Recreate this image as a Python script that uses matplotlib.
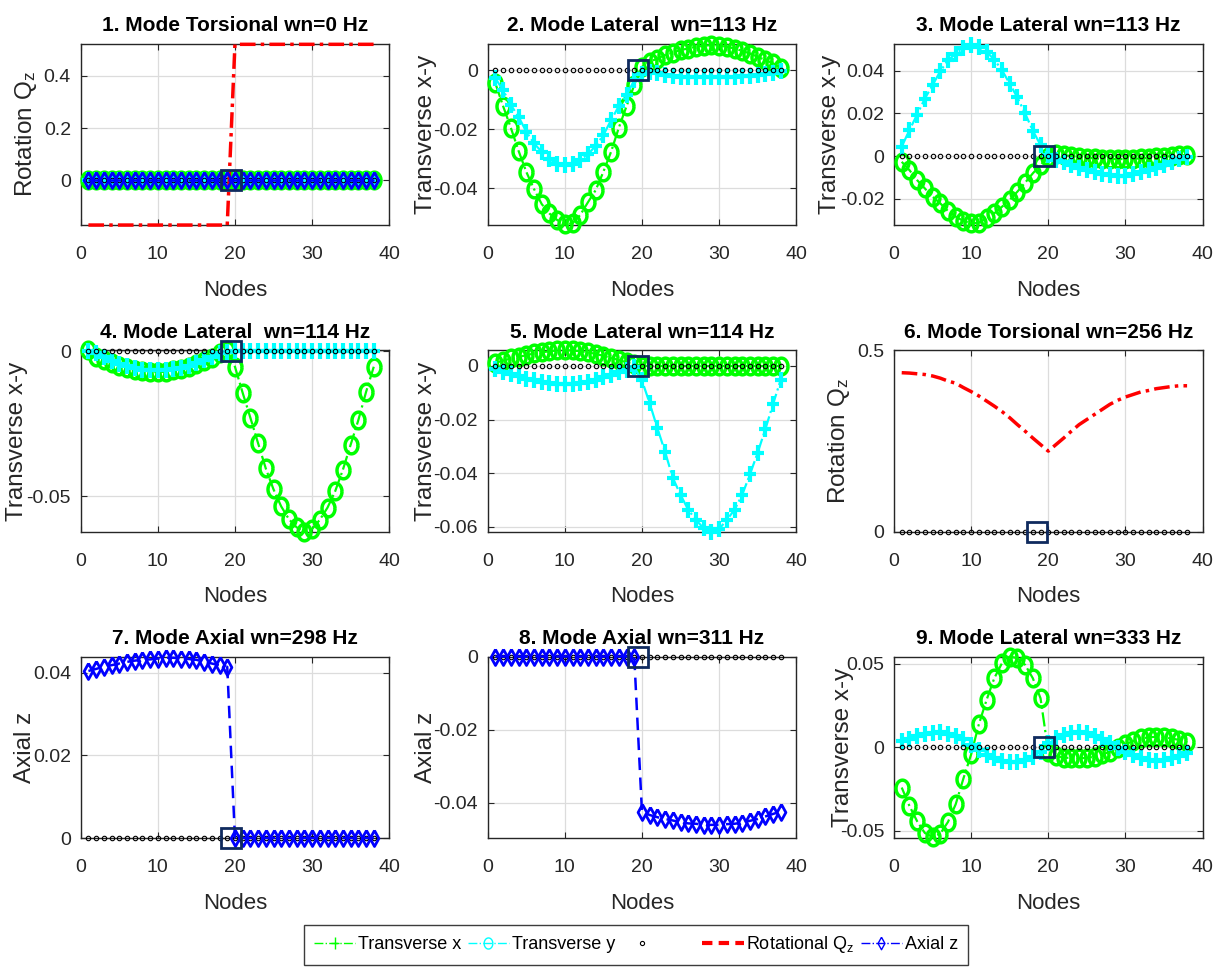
import matplotlib
matplotlib.use("Agg")
import matplotlib.pyplot as plt
from matplotlib.lines import Line2D
from matplotlib.path import Path
from matplotlib.ticker import MultipleLocator, FuncFormatter
import numpy as np

plt.rcParams["font.family"] = ["Liberation Sans", "DejaVu Sans"]
plt.rcParams["axes.unicode_minus"] = False
plt.rcParams["mathtext.fontset"] = "custom"
plt.rcParams["mathtext.rm"] = "Liberation Sans"
plt.rcParams["mathtext.it"] = "Liberation Sans:italic"

nodes = np.arange(1, 39)
zeros = [0.0] * 38

titles = [
    "1. Mode Torsional wn=0 Hz",
    "2. Mode Lateral  wn=113 Hz",
    "3. Mode Lateral wn=113 Hz",
    "4. Mode Lateral  wn=114 Hz",
    "5. Mode Lateral wn=114 Hz",
    "6. Mode Torsional wn=256 Hz",
    "7. Mode Axial wn=298 Hz",
    "8. Mode Axial wn=311 Hz",
    "9. Mode Lateral wn=333 Hz",
]
ylabels = [
    r"Rotation Q$_{\rm z}$", "Transverse x-y", "Transverse x-y",
    "Transverse x-y", "Transverse x-y", r"Rotation Q$_{\rm z}$",
    "Axial z", "Axial z", "Transverse x-y",
]

# transverse component drawn with cyan '+'
trans_x = [
    zeros,
    [-0.0028, -0.0068, -0.0118, -0.0158, -0.0208, -0.0248, -0.0276, -0.0302, -0.0316, -0.0321,
     -0.0318, -0.0304, -0.0285, -0.0256, -0.0220, -0.0169, -0.0122, -0.0085, -0.0034, -0.0013,
     -0.0006, -0.0011, -0.0017, -0.0020, -0.0022, -0.0023, -0.0023, -0.0023, -0.0023, -0.0023,
     -0.0023, -0.0022, -0.0021, -0.0020, -0.0017, -0.0013, -0.0009, -0.0002],
    [0.0044, 0.0122, 0.0195, 0.0270, 0.0333, 0.0398, 0.0450, 0.0480, 0.0506, 0.0522,
     0.0511, 0.0489, 0.0453, 0.0403, 0.0340, 0.0275, 0.0200, 0.0119, 0.0052, 0.0005,
     -0.0019, -0.0030, -0.0042, -0.0055, -0.0066, -0.0077, -0.0084, -0.0089, -0.0092, -0.0092,
     -0.0084, -0.0077, -0.0066, -0.0055, -0.0042, -0.0030, -0.0016, -0.0003],
    [0.0000, -0.0008, -0.0022, -0.0033, -0.0044, -0.0052, -0.0059, -0.0065, -0.0067, -0.0067,
     -0.0067, -0.0063, -0.0058, -0.0050, -0.0041, -0.0031, -0.0019, -0.0008, -0.0002, 0.0000]
    + [0.0] * 18,
    [-0.0010, -0.0023, -0.0029, -0.0039, -0.0048, -0.0051, -0.0058, -0.0063, -0.0067, -0.0067,
     -0.0067, -0.0063, -0.0058, -0.0051, -0.0041, -0.0033, -0.0023, -0.0016, -0.0004, -0.0054,
     -0.0139, -0.0232, -0.0321, -0.0418, -0.0481, -0.0537, -0.0575, -0.0606, -0.0619, -0.0609,
     -0.0575, -0.0537, -0.0481, -0.0405, -0.0324, -0.0236, -0.0142, -0.0051],
    None,
    None,
    None,
    [0.0038, 0.0048, 0.0066, 0.0078, 0.0086, 0.0088, 0.0078, 0.0068, 0.0048, 0.0012,
     -0.0018, -0.0048, -0.0068, -0.0082, -0.0088, -0.0088, -0.0078, -0.0058, -0.0028, 0.0022,
     0.0052, 0.0072, 0.0086, 0.0088, 0.0082, 0.0068, 0.0048, 0.0022, -0.0004, -0.0028,
     -0.0048, -0.0064, -0.0078, -0.0084, -0.0080, -0.0068, -0.0052, -0.0038],
]

# transverse component drawn with green 'o'
trans_y = [
    zeros,
    [-0.0045, -0.0122, -0.0195, -0.0273, -0.0344, -0.0402, -0.0453, -0.0485, -0.0507, -0.0522,
     -0.0518, -0.0490, -0.0447, -0.0406, -0.0344, -0.0276, -0.0195, -0.0122, -0.0051, 0.0011,
     0.0028, 0.0039, 0.0051, 0.0059, 0.0068, 0.0073, 0.0079, 0.0082, 0.0085, 0.0083,
     0.0079, 0.0073, 0.0065, 0.0056, 0.0045, 0.0034, 0.0023, 0.0008],
    [-0.0027, -0.0066, -0.0113, -0.0152, -0.0191, -0.0222, -0.0258, -0.0284, -0.0305, -0.0316,
     -0.0313, -0.0292, -0.0269, -0.0238, -0.0206, -0.0167, -0.0125, -0.0081, -0.0042, -0.0003,
     0.0009, 0.0005, 0.0000, -0.0004, -0.0008, -0.0011, -0.0013, -0.0014, -0.0014, -0.0014,
     -0.0013, -0.0011, -0.0009, -0.0006, -0.0003, 0.0000, 0.0003, 0.0005],
    [0.0003, -0.0019, -0.0031, -0.0042, -0.0050, -0.0058, -0.0065, -0.0069, -0.0072, -0.0073,
     -0.0071, -0.0067, -0.0062, -0.0054, -0.0044, -0.0035, -0.0024, -0.0008, 0.0003, -0.0054,
     -0.0144, -0.0230, -0.0318, -0.0405, -0.0477, -0.0536, -0.0580, -0.0608, -0.0623, -0.0614,
     -0.0582, -0.0540, -0.0483, -0.0409, -0.0323, -0.0238, -0.0141, -0.0054],
    [0.0012, 0.0020, 0.0028, 0.0034, 0.0040, 0.0047, 0.0051, 0.0055, 0.0058, 0.0059,
     0.0058, 0.0055, 0.0051, 0.0045, 0.0038, 0.0030, 0.0022, 0.0014, 0.0007, 0.0000]
    + [0.0] * 18,
    None,
    None,
    None,
    [-0.0242, -0.0352, -0.0444, -0.0514, -0.0538, -0.0518, -0.0448, -0.0342, -0.0188, -0.0044,
     0.0136, 0.0282, 0.0412, 0.0502, 0.0542, 0.0532, 0.0492, 0.0412, 0.0292, -0.0028,
     -0.0054, -0.0064, -0.0064, -0.0068, -0.0064, -0.0058, -0.0044, -0.0028, -0.0004, 0.0016,
     0.0036, 0.0052, 0.0058, 0.0062, 0.0058, 0.0052, 0.0042, 0.0028],
]

rot_z = [
    [-0.171] * 19 + [0.520] * 19,
    None, None, None, None,
    [0.438, 0.437, 0.435, 0.433, 0.429, 0.423, 0.415, 0.409, 0.397, 0.386,
     0.374, 0.360, 0.346, 0.331, 0.314, 0.295, 0.277, 0.258, 0.240, 0.222,
     0.240, 0.258, 0.277, 0.295, 0.309, 0.323, 0.337, 0.351, 0.362, 0.371,
     0.378, 0.385, 0.389, 0.394, 0.397, 0.400, 0.402, 0.402],
    None, None, None,
]

axial_z = [
    zeros,
    None, None, None, None, None,
    [0.0404, 0.0409, 0.0414, 0.0418, 0.0422, 0.0426, 0.0429, 0.0431, 0.0432, 0.0434,
     0.0436, 0.0436, 0.0434, 0.0433, 0.0431, 0.0426, 0.0422, 0.0418, 0.0414, 0.0000]
    + [0.0] * 18,
    [0.0] * 19
    + [-0.0425, -0.0434, -0.0440, -0.0445, -0.0449, -0.0454, -0.0457, -0.0458, -0.0461, -0.0461,
       -0.0461, -0.0459, -0.0458, -0.0455, -0.0450, -0.0445, -0.0438, -0.0431, -0.0425],
    None,
]

bearing_node = [19.5, 19.5, 19.5, 19.5, 19.5, 18.5, 19.5, 19.5, 19.5]

ylims = [(-0.172, 0.522), (-0.0525, 0.0089), (-0.0325, 0.0527),
         (-0.0623, 0.0003), (-0.0619, 0.0059), (0.0, 0.5),
         (0.0, 0.0439), (-0.0497, 0.0), (-0.0544, 0.0542)]
ystep = [0.2, 0.02, 0.02, 0.05, 0.02, 0.5, 0.02, 0.02, 0.05]
ylabel_x = [-0.176, -0.200, -0.206, -0.206, -0.200, -0.178, -0.182, -0.200, -0.166]

# squeezed marker shapes
t = np.linspace(0, 2 * np.pi, 41)
ellipse = list(zip(0.78 * np.cos(t), np.sin(t)))
diamond = [(0, 1), (0.55, 0), (0, -1), (-0.55, 0), (0, 1)]
plus = Path([(-0.8, 0), (0.8, 0), (0, -1), (0, 1)],
            [Path.MOVETO, Path.LINETO, Path.MOVETO, Path.LINETO])

GREEN = "#00ff00"
CYAN = "#00ffff"
RED = "#ff0000"
BLUE = "#0000ff"
NAVY = "#0f2a5e"
INK = "#262626"

fmt = FuncFormatter(lambda v, _: f"{v:g}" if abs(v) > 1e-12 else "0")

fig = plt.figure(figsize=(12.2, 9.71), dpi=100)
W, H = 1220.0, 971.0
col_left = [80.7, 487.7, 894.0]
row_bottom = [225.3, 531.7, 838.0]
aw, ah = 308.5, 181.5

for k in range(9):
    r, c = divmod(k, 3)
    ax = fig.add_axes([col_left[c] / W, 1 - row_bottom[r] / H, aw / W, ah / H])

    if trans_y[k] is not None:
        ax.plot(nodes, trans_y[k], linestyle="-.", color=GREEN, linewidth=1.6,
                marker=ellipse, markersize=12, markerfacecolor="none",
                markeredgecolor=GREEN, markeredgewidth=2.5, clip_on=False, zorder=3)
    if trans_x[k] is not None:
        ax.plot(nodes, trans_x[k], linestyle="-.", color=CYAN, linewidth=1.6,
                marker=plus, markersize=11, markerfacecolor="none",
                markeredgecolor=CYAN, markeredgewidth=3.0, clip_on=False, zorder=3)
    ax.plot(nodes, zeros, linestyle="none", marker="o", markersize=3.2,
            markerfacecolor="none", markeredgecolor="black", markeredgewidth=0.8,
            clip_on=False, zorder=4)
    if rot_z[k] is not None:
        ax.plot(nodes, rot_z[k], linestyle=(0, (4.5, 1.5, 1, 1.5)), color=RED,
                linewidth=2.5, clip_on=False, zorder=4)
    if axial_z[k] is not None:
        ax.plot(nodes, axial_z[k], linestyle=(0, (5, 3)), color=BLUE, linewidth=1.8,
                marker=diamond, markersize=11.5, markerfacecolor="none",
                markeredgecolor=BLUE, markeredgewidth=2.0, clip_on=False, zorder=5)
    ax.plot([bearing_node[k]], [0], linestyle="none", marker="s", markersize=14,
            markerfacecolor="none", markeredgecolor=NAVY, markeredgewidth=2,
            clip_on=False, zorder=6)

    ax.set_xlim(0, 40)
    ax.set_ylim(*ylims[k])
    ax.xaxis.set_major_locator(MultipleLocator(10))
    ax.yaxis.set_major_locator(MultipleLocator(ystep[k]))
    ax.yaxis.set_major_formatter(fmt)
    ax.grid(True, color="#dcdcdc", linewidth=0.9)
    ax.set_axisbelow(True)
    ax.tick_params(direction="in", top=True, right=True, length=4,
                   labelsize=14, colors=INK)
    ax.tick_params(axis="x", pad=15)
    ax.tick_params(axis="y", pad=7)
    for s in ax.spines.values():
        s.set_color(INK)
        s.set_linewidth(1.0)

    ax.set_title(titles[k], fontsize=15, fontweight="bold", pad=9)
    ax.set_xlabel("Nodes", fontsize=16, labelpad=12, color=INK)
    ax.set_ylabel(ylabels[k], fontsize=17.5, color=INK, va="center")
    ax.yaxis.set_label_coords(ylabel_x[k], 0.5)

handles = [
    Line2D([], [], linestyle="-.", color=GREEN, linewidth=1, marker=plus,
           markersize=8, markeredgecolor=GREEN, markeredgewidth=1),
    Line2D([], [], linestyle="-.", color=CYAN, linewidth=1, marker=ellipse,
           markersize=8, markerfacecolor="none", markeredgecolor=CYAN, markeredgewidth=1),
    Line2D([], [], linestyle="none", marker="o", markersize=3,
           markerfacecolor="none", markeredgecolor="black", markeredgewidth=0.8),
    Line2D([], [], linestyle=(0, (2.5, 1.5)), color=RED, linewidth=3),
    Line2D([], [], linestyle="-.", color=BLUE, linewidth=1, marker=diamond,
           markersize=9, markerfacecolor="none", markeredgecolor=BLUE, markeredgewidth=1),
]
labels = ["Transverse x", "Transverse y", "      ", r"Rotational Q$_{\rm z}$", "Axial z"]
leg = fig.legend(handles, labels, loc="center", bbox_to_anchor=(0.5213, 0.0268),
                 ncol=5, fontsize=13, frameon=True, fancybox=False, framealpha=1,
                 edgecolor="#3c3c3c", handlelength=2.3, handletextpad=0.15,
                 columnspacing=0.35, borderpad=0.55)
leg.get_frame().set_linewidth(1.0)

fig.savefig("out.png", dpi=100)
